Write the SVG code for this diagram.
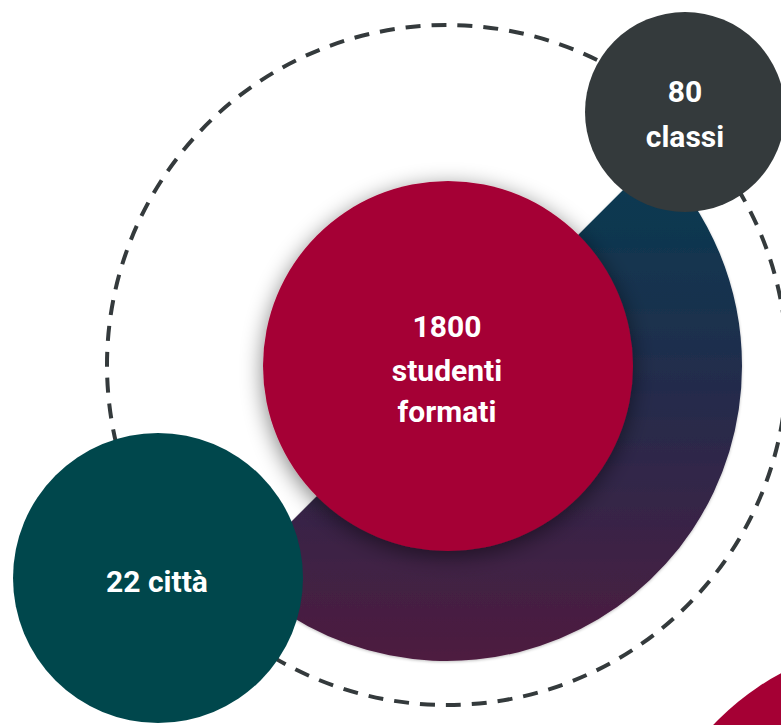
<svg xmlns="http://www.w3.org/2000/svg" width="781" height="725" viewBox="0 0 781 725">
<style>
.lbl{font-family:Roboto,"Open Sans","Liberation Sans",sans-serif;font-weight:700;font-size:30px;fill:#ffffff;text-anchor:middle}
.dash{fill:none;stroke:#343a3c;stroke-width:4;stroke-dasharray:15 11}
</style>
<defs>
<linearGradient id="wg" gradientUnits="userSpaceOnUse" x1="0" y1="156" x2="0" y2="661">
<stop offset="0" stop-color="#053c52"/>
<stop offset="0.45" stop-color="#232c4c"/>
<stop offset="1" stop-color="#4e1c40"/>
</linearGradient>
<filter id="sh" x="-30%" y="-30%" width="160%" height="160%">
<feGaussianBlur in="SourceAlpha" stdDeviation="11"/>
<feOffset dx="0" dy="5" result="b"/>
<feComponentTransfer><feFuncA type="linear" slope="0.5"/></feComponentTransfer>
<feMerge><feMergeNode/><feMergeNode in="SourceGraphic"/></feMerge>
</filter>
<filter id="sh2" x="-10%" y="-10%" width="120%" height="120%">
<feGaussianBlur in="SourceAlpha" stdDeviation="1.5"/>
<feOffset dx="0" dy="1"/>
<feComponentTransfer><feFuncA type="linear" slope="0.25"/></feComponentTransfer>
<feMerge><feMergeNode/><feMergeNode in="SourceGraphic"/></feMerge>
</filter>
</defs>
<rect width="781" height="725" fill="#ffffff"/>
<g id="connectors">
<circle class="dash" cx="447" cy="365" r="340"/>
</g>
<g id="wedge">
<path d="M447 366 L655.6 157.4 A295 295 0 0 1 742 366 A295 295 0 0 1 238.4 574.6 Z" fill="url(#wg)" filter="url(#sh2)"/>
</g>
<g id="studenti">
<circle cx="448" cy="366" r="185" fill="#a50034" filter="url(#sh)"/>
<text class="lbl" x="447" y="337">1800</text>
<text class="lbl" x="447" y="381">studenti</text>
<text class="lbl" x="447" y="422">formati</text>
</g>
<g id="classi">
<circle cx="685" cy="112" r="100" fill="#343a3c"/>
<text class="lbl" x="685" y="102">80</text>
<text class="lbl" x="685" y="147">classi</text>
</g>
<g id="citta">
<circle cx="158" cy="578" r="145" fill="#00474c"/>
<text class="lbl" x="157" y="592">22 città</text>
</g>
<g id="corner">
<circle cx="900" cy="900" r="256" fill="#a50034"/>
</g>
</svg>
